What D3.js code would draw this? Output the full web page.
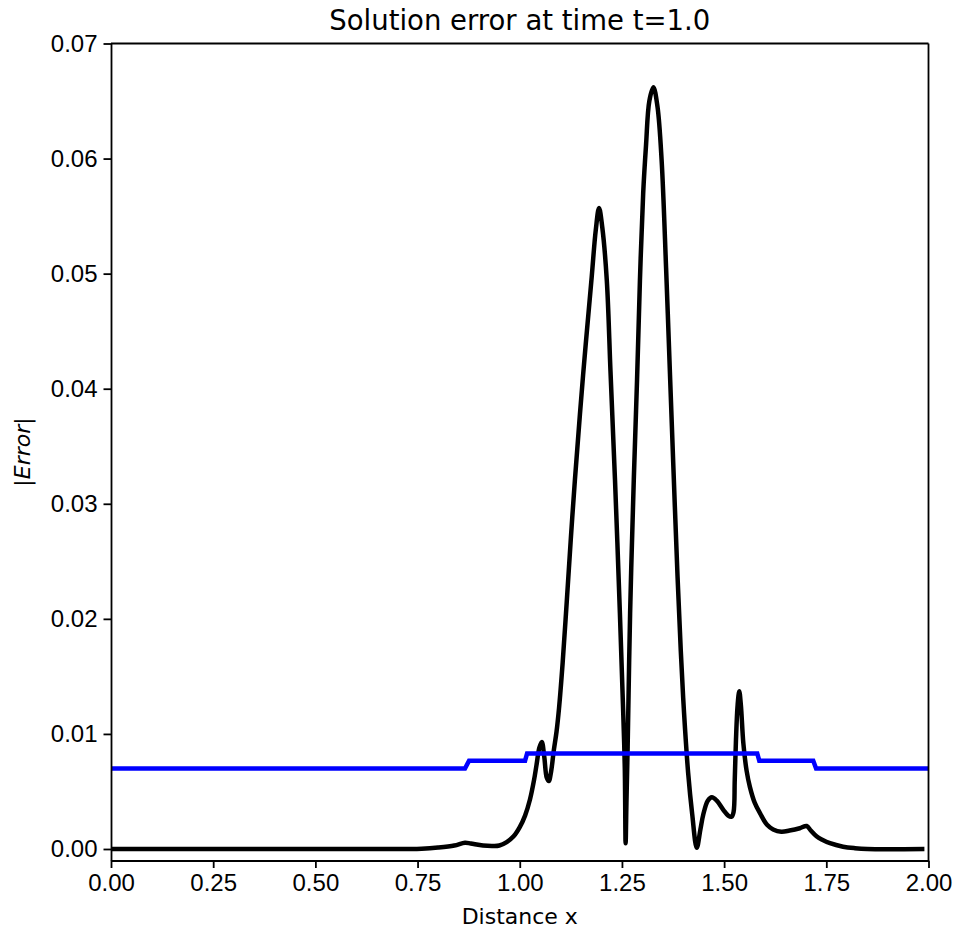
<!DOCTYPE html>
<html>
<head>
<meta charset="utf-8">
<script src="https://cdn.jsdelivr.net/npm/d3@7"></script>
<style>
  body { margin: 0; background: #fff; }
  svg { display: block; font-family: "DejaVu Sans", sans-serif; }
  .tick text { font-size: 24px; fill: #000; }
  .domain, .tick line { stroke: #000; stroke-width: 1.8px; }
</style>
</head>
<body>
<svg id="chart" width="957" height="931"></svg>
<script>
// Solution error |Error| versus distance x (black curve)
const errX = [0.00, 0.72, 0.76, 0.80, 0.84, 0.866, 0.88, 0.91, 0.935, 0.95, 0.968, 0.985,
  1.000, 1.013, 1.025, 1.035, 1.041, 1.048, 1.054, 1.060, 1.066, 1.071, 1.077, 1.083, 1.090,
  1.096, 1.105, 1.115, 1.125, 1.135, 1.155, 1.176, 1.186, 1.194, 1.202, 1.213, 1.222, 1.233,
  1.245, 1.253, 1.257, 1.259, 1.261, 1.264, 1.270, 1.279, 1.287, 1.294, 1.302, 1.309, 1.317,
  1.327, 1.337, 1.347, 1.358, 1.368, 1.377, 1.386, 1.394, 1.402, 1.412, 1.422, 1.433, 1.442,
  1.449, 1.460, 1.470, 1.482, 1.498, 1.510, 1.518, 1.523, 1.526, 1.529, 1.533, 1.537, 1.541,
  1.547, 1.555, 1.563, 1.575, 1.588, 1.605, 1.620, 1.640, 1.660, 1.685, 1.702, 1.712, 1.726,
  1.740, 1.759, 1.791, 1.820, 1.850, 1.990];
const errY = [0, 0, 0.00002, 0.00012, 0.0003, 0.00055, 0.00048, 0.0003, 0.00026, 0.0003, 0.0006, 0.0011,
  0.0019, 0.0029, 0.0043, 0.0060, 0.0073, 0.0088, 0.0093, 0.0080, 0.0062, 0.0059, 0.0068, 0.0085, 0.0102,
  0.0122, 0.0162, 0.0215, 0.0270, 0.0321, 0.0412, 0.0497, 0.0538, 0.0557, 0.0540, 0.0494, 0.0415, 0.0321,
  0.0205, 0.0120, 0.0070, 0.0005, 0.0040, 0.0089, 0.0205, 0.0321, 0.0408, 0.0494, 0.0570, 0.0612, 0.0650,
  0.0662, 0.0645, 0.0599, 0.0505, 0.0408, 0.0321, 0.0237, 0.0172, 0.0118, 0.0066, 0.0030, 0.0001, 0.0017,
  0.0030, 0.0042, 0.0045, 0.0042, 0.0034, 0.0029, 0.0028, 0.0032, 0.0060, 0.0095, 0.0125, 0.0137, 0.0125,
  0.0092, 0.0068, 0.0054, 0.0040, 0.0031, 0.0021, 0.0017, 0.0015, 0.0016, 0.0018, 0.0020, 0.0016, 0.0011,
  0.0008, 0.0005, 0.0002, 0.00007, 0, 0];

// step line (blue)
const stepX = [0.00, 0.866, 0.876, 1.013, 1.018, 1.581, 1.586, 1.718, 1.725, 2.00];
const stepY = [0.0070, 0.0070, 0.00767, 0.00767, 0.0083, 0.0083, 0.00767, 0.00767, 0.0070, 0.0070];

const xTicks = [0, 0.25, 0.5, 0.75, 1.0, 1.25, 1.5, 1.75, 2.0];
const yTicks = [0, 0.01, 0.02, 0.03, 0.04, 0.05, 0.06, 0.07];

const svg = d3.select("#chart");
const plotLeft = 111, plotRight = 928.5, plotTop = 43.5, plotBottom = 860.5;

const x = d3.scaleLinear().domain([0, 2]).range([plotLeft, plotRight]);
const y = d3.scaleLinear().domain([-0.001, 0.07]).range([plotBottom, plotTop]);

const errData = errX.map((d, i) => [d, errY[i]]);
const stepData = stepX.map((d, i) => [d, stepY[i]]);

svg.append("defs").append("clipPath").attr("id", "clip")
  .append("rect").attr("x", plotLeft).attr("y", plotTop)
  .attr("width", plotRight - plotLeft).attr("height", plotBottom - plotTop);

const plot = svg.append("g").attr("clip-path", "url(#clip)");

plot.append("path")
  .datum(errData)
  .attr("fill", "none")
  .attr("stroke", "#000")
  .attr("stroke-width", 4.5)
  .attr("stroke-linejoin", "round")
  .attr("d", d3.line().x(d => x(d[0])).y(d => y(d[1])).curve(d3.curveCatmullRom.alpha(0.5)));

plot.append("path")
  .datum(stepData)
  .attr("fill", "none")
  .attr("stroke", "#0000ff")
  .attr("stroke-width", 4.5)
  .attr("d", d3.line().x(d => x(d[0])).y(d => y(d[1])));

// axes
svg.append("g")
  .attr("transform", `translate(0,${plotBottom})`)
  .call(d3.axisBottom(x).tickValues(xTicks).tickFormat(d3.format(".2f")).tickSizeInner(7.5).tickSizeOuter(0).tickPadding(6));

svg.append("g")
  .attr("transform", `translate(${plotLeft},0)`)
  .call(d3.axisLeft(y).tickValues(yTicks).tickFormat(d3.format(".2f")).tickSizeInner(7.5).tickSizeOuter(0).tickPadding(6));

// top and right frame
svg.append("line").attr("x1", plotLeft).attr("x2", plotRight).attr("y1", plotTop).attr("y2", plotTop)
  .attr("stroke", "#000").attr("stroke-width", 1.8);
svg.append("line").attr("x1", plotRight).attr("x2", plotRight).attr("y1", plotTop).attr("y2", plotBottom)
  .attr("stroke", "#000").attr("stroke-width", 1.8);

// titles
svg.append("text")
  .attr("x", (plotLeft + plotRight) / 2).attr("y", 30)
  .attr("text-anchor", "middle").attr("font-size", 27.5)
  .text("Solution error at time t=1.0");

svg.append("text")
  .attr("x", (plotLeft + plotRight) / 2).attr("y", 924)
  .attr("text-anchor", "middle").attr("font-size", 22)
  .text("Distance x");

const yl = svg.append("text")
  .attr("transform", `translate(30,${(plotTop + plotBottom) / 2}) rotate(-90)`)
  .attr("text-anchor", "middle").attr("font-size", 22);
yl.append("tspan").text("|");
yl.append("tspan").attr("font-style", "italic").text("Error");
yl.append("tspan").text("|");
</script>
</body>
</html>
